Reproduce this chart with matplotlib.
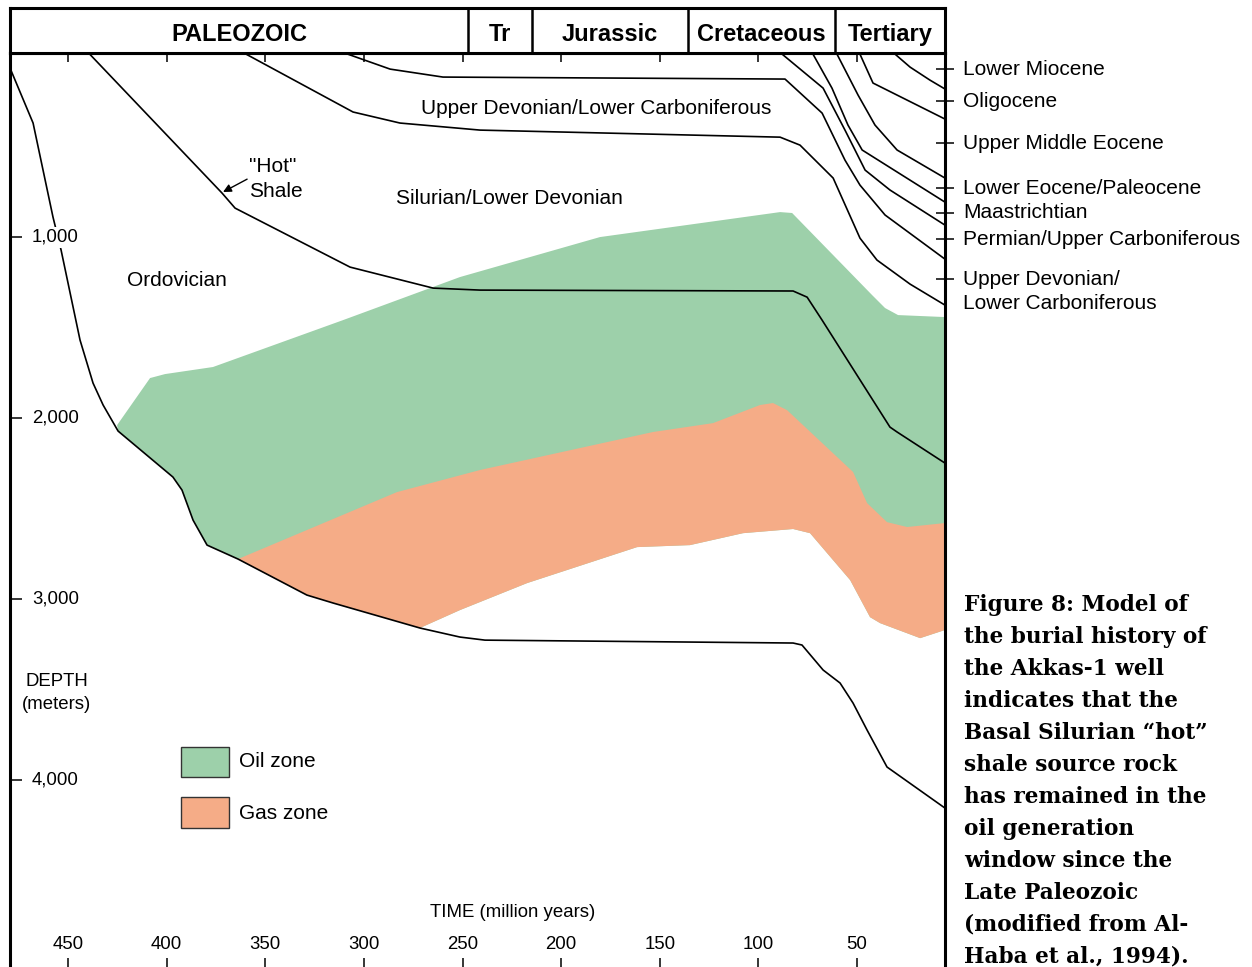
import numpy as np
import matplotlib.pyplot as plt
from matplotlib.patches import Rectangle

plt.rcParams['font.family'] = ['Liberation Sans', 'DejaVu Sans']

# horizons: time (Ma) and depth (m)
base_ord_t = [479.4, 467.7, 457.6, 453.5, 443.9, 437.3, 432.2, 424.6, 396.8, 392.2, 386.6, 379.5,
              363.8, 328.9, 315.6, 271.6, 251.3, 238.6, 82.4, 77.9, 67.2, 58.6, 52.0, 44.9, 34.8, 5.4]
base_ord_d = [66, 370, 890, 1072, 1569, 1807, 1928, 2072, 2326, 2398, 2564, 2702,
              2779, 2978, 3022, 3160, 3210, 3227, 3243, 3254, 3392, 3464, 3575, 3724, 3928, 4155]

hot_shale_t = [439.8, 371.9, 365.3, 307.0, 264.9, 241.1, 82.4, 75.3, 67.7, 33.3, 29.7, 5.4]
hot_shale_d = [-20, 757, 840, 1166, 1282, 1293, 1298, 1332, 1459, 2050, 2077, 2249]

base_udev_t = [361.3, 305.5, 281.7, 241.1, 89.0, 78.9, 62.1, 48.5, 39.9, 23.1, 5.4]
base_udev_d = [-20, 309, 370, 409, 448, 492, 674, 1006, 1127, 1260, 1376]

base_perm_t = [310.6, 286.7, 259.9, 86.5, 67.7, 56.1, 48.5, 35.8, 5.4]
base_perm_d = [-20, 72, 116, 127, 315, 575, 713, 878, 1122]

base_maas_t = [89.0, 67.2, 56.1, 45.9, 33.3, 5.4]
base_maas_d = [-20, 177, 409, 630, 740, 934]

base_leoc_t = [72.8, 62.7, 54.6, 47.4, 5.4]
base_leoc_d = [-20, 177, 381, 519, 807]

base_umeoc_t = [60.6, 49.5, 40.9, 29.7, 5.4]
base_umeoc_d = [-20, 215, 381, 519, 674]

base_olig_t = [48.9, 41.9, 5.4]
base_olig_d = [-20, 149, 348]

base_mioc_t = [31.7, 23.1, 13.0, 5.4]
base_mioc_d = [-20, 61, 133, 182]

# oil / gas window boundaries
oil_top_t = [425.1, 408.4, 400.8, 376.5, 310.6, 251.3, 180.3, 89.0, 82.9, 42.4, 35.8, 29.2, 5.4]
oil_top_d = [2039, 1779, 1757, 1718, 1459, 1221, 1000, 862, 867, 1320, 1392, 1431, 1442]

oil_base_t = [363.8, 283.2, 241.1, 153.4, 123.0, 99.2, 92.6, 85.5, 52.0, 44.9, 34.8, 24.6, 5.4]
oil_base_d = [2779, 2409, 2287, 2077, 2028, 1928, 1917, 1956, 2298, 2470, 2575, 2602, 2580]

gas_base_t = [271.6, 251.3, 217.3, 161.5, 134.7, 107.8, 82.4, 73.8, 53.5, 43.4, 38.3, 18.0, 5.4]
gas_base_d = [3160, 3061, 2912, 2713, 2702, 2636, 2613, 2636, 2895, 3100, 3133, 3216, 3171]

time_ticks = [450, 400, 350, 300, 250, 200, 150, 100, 50]
depth_ticks = [1000, 2000, 3000, 4000]

eras = ['PALEOZOIC', 'Tr', 'Jurassic', 'Cretaceous', 'Tertiary']
era_bounds = [479.4, 247.2, 214.8, 135.7, 61.1, 5.4]

formations = ['Lower Miocene', 'Oligocene', 'Upper Middle Eocene', 'Lower Eocene/Paleocene',
              'Maastrichtian', 'Permian/Upper Carboniferous', 'Upper Devonian/\nLower Carboniferous']
formation_d = [72, 249, 481, 729, 867, 1011, 1232]

caption = ['Figure 8: Model of', 'the burial history of', 'the Akkas-1 well', 'indicates that the',
           'Basal Silurian \u201chot\u201d', 'shale source rock', 'has remained in the',
           'oil generation', 'window since the', 'Late Paleozoic', '(modified from Al-',
           'Haba et al., 1994).']

GREEN = '#9DD0AA'
ORANGE = '#F5AC87'

W, H = 1252, 967
fig = plt.figure(figsize=(W / 100, H / 100), dpi=100)
ax = fig.add_axes([10 / W, 0, 935 / W, 914 / H])
hd = fig.add_axes([10 / W, 914 / H, 935 / W, 45 / H])

ax.set_xlim(479.4, 5.4)
ax.set_ylim(5033, -17)

# zones (closed along the deepest horizon)
bt = np.array(base_ord_t)
bd = np.array(base_ord_d)
m = (bt >= 271.6) & (bt <= 424.6)
green_t = oil_top_t + gas_base_t[::-1] + list(bt[m][::-1])
green_d = oil_top_d + gas_base_d[::-1] + list(bd[m][::-1])
ax.fill(green_t, green_d, color=GREEN, lw=0, zorder=1)
m2 = (bt >= 271.6) & (bt <= 363.8)
gas_t = oil_base_t + gas_base_t[::-1] + list(bt[m2][::-1])
gas_d = oil_base_d + gas_base_d[::-1] + list(bd[m2][::-1])
ax.fill(gas_t, gas_d, color=ORANGE, lw=0, zorder=2)

lines = [(base_ord_t, base_ord_d), (hot_shale_t, hot_shale_d), (base_udev_t, base_udev_d),
         (base_perm_t, base_perm_d), (base_maas_t, base_maas_d), (base_leoc_t, base_leoc_d),
         (base_umeoc_t, base_umeoc_d), (base_olig_t, base_olig_d), (base_mioc_t, base_mioc_d)]
for t, d in lines:
    ax.plot(t, d, color='black', lw=1.2, zorder=3)

# axes styling
for s in ['left', 'top', 'right']:
    ax.spines[s].set_linewidth(2.2)
ax.spines['bottom'].set_visible(False)
ax.set_xticks(time_ticks)
ax.set_yticks(depth_ticks)
ax.tick_params(axis='x', direction='in', length=6.5, width=1.1, top=True, bottom=True,
               labelbottom=False)
ax.tick_params(axis='y', direction='in', length=8.6, width=1.1, left=True, right=True,
               labelleft=False)

for t in time_ticks:
    ax.text(t, 0.0241, str(t), transform=ax.get_xaxis_transform(), ha='center', va='center',
            fontsize=13.4)
for d in depth_ticks:
    ax.text(0.0235, d, f'{d:,}', transform=ax.get_yaxis_transform(), ha='left', va='center',
            fontsize=13.4, zorder=5, bbox=dict(fc='white', ec='none', pad=1.5))

ax.text(224.4, 4730, 'TIME (million years)', ha='center', va='center', fontsize=13.4)
ax.text(455.6, 3453, 'DEPTH', ha='center', va='center', fontsize=13.4)
ax.text(455.6, 3580, '(meters)', ha='center', va='center', fontsize=13.4)

ax.text(182.3, 287, 'Upper Devonian/Lower Carboniferous', ha='center', va='center', fontsize=15)
ax.text(226.4, 785, 'Silurian/Lower Devonian', ha='center', va='center', fontsize=15)
ax.text(394.7, 1238, 'Ordovician', ha='center', va='center', fontsize=15)
ax.text(358.2, 608, '"Hot"', ha='left', va='center', fontsize=15)
ax.text(358.2, 746, 'Shale', ha='left', va='center', fontsize=15)
ax.annotate('', xy=(371.4, 751), xytext=(359.2, 680),
            arrowprops=dict(arrowstyle='-|>', color='black', lw=1.0, mutation_scale=12,
                            shrinkA=0, shrinkB=0))

# legend
ax.add_patch(Rectangle((0.1829, 0.2079), 0.0513, 0.0328, transform=ax.transAxes,
                       fc=GREEN, ec='#333333', lw=1))
ax.add_patch(Rectangle((0.1829, 0.1521), 0.0513, 0.0339, transform=ax.transAxes,
                       fc=ORANGE, ec='#333333', lw=1))
ax.text(0.2449, 0.2243, 'Oil zone', transform=ax.transAxes, ha='left', va='center', fontsize=15)
ax.text(0.2449, 0.1674, 'Gas zone', transform=ax.transAxes, ha='left', va='center', fontsize=15)

# formation ticks and labels on the right
tw = ax.twinx()
tw.set_ylim(ax.get_ylim())
tw.set_yticks(formation_d)
tw.set_yticklabels([])
tw.tick_params(axis='y', direction='inout', length=13, width=1.1)
for s in tw.spines.values():
    s.set_visible(False)
for name, d in zip(formations, formation_d):
    for i, part in enumerate(name.split('\n')):
        ax.annotate(part, xy=(1.0193, d), xycoords=ax.get_yaxis_transform(),
                    xytext=(0, -17.3 * i), textcoords='offset points',
                    ha='left', va='center', fontsize=15, annotation_clip=False)

# era header
hd.set_xlim(ax.get_xlim())
hd.set_ylim(0, 1)
hd.set_xticks([])
hd.set_yticks([])
for s in hd.spines.values():
    s.set_linewidth(2.2)
for b in era_bounds[1:-1]:
    hd.axvline(b, color='black', lw=1.8)
for i, name in enumerate(eras):
    hd.text((era_bounds[i] + era_bounds[i + 1]) / 2, 0.42, name, ha='center', va='center',
            fontsize=17, fontweight='bold')

# caption
for i, line in enumerate(caption):
    fig.text(964 / W, 1 - (605 + 32 * i) / H, line, ha='left', va='center',
             fontsize=15.6, fontweight='bold', family='DejaVu Serif')

fig.savefig('out.png', dpi=100)
